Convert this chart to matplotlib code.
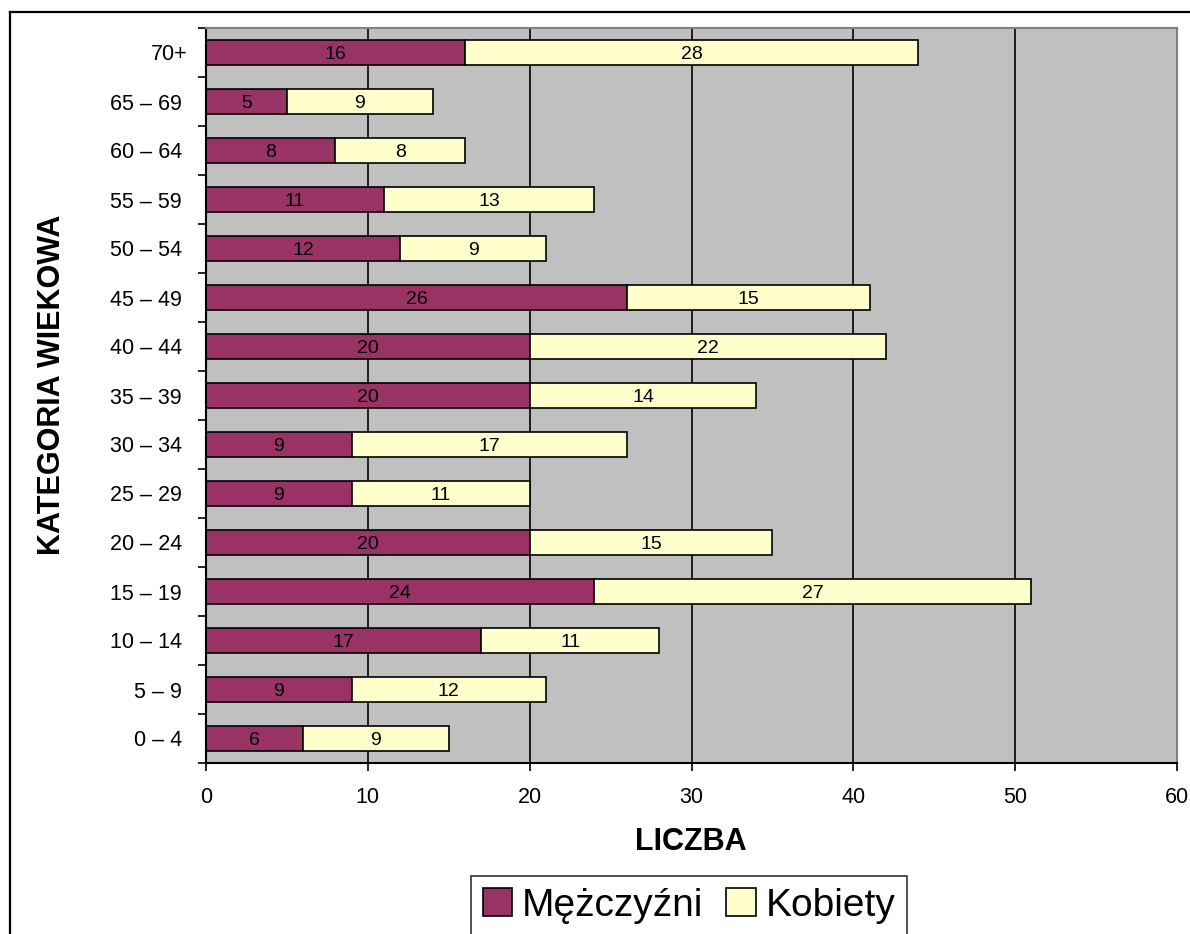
import matplotlib
matplotlib.use("Agg")
import matplotlib.pyplot as plt
from matplotlib.patches import Patch
from matplotlib.lines import Line2D
import numpy as np

plt.rcParams['font.family'] = ['Liberation Sans', 'DejaVu Sans']

categories = ["0 – 4 ", "5 – 9 ", "10 – 14 ", "15 – 19 ", "20 – 24 ", "25 – 29 ", "30 – 34 ",
              "35 – 39 ", "40 – 44 ", "45 – 49 ", "50 – 54 ", "55 – 59 ", "60 – 64 ",
              "65 – 69 ", "70+"]
men = [6, 9, 17, 24, 20, 9, 9, 20, 20, 26, 12, 11, 8, 5, 16]
women = [9, 12, 11, 27, 15, 11, 17, 14, 22, 15, 9, 13, 8, 9, 28]
series_names = ["Mężczyźni", "Kobiety"]
xticks = [0, 10, 20, 30, 40, 50, 60]

c_men = "#993366"
c_women = "#FFFFCC"

W, H = 1190, 934
fig = plt.figure(figsize=(W / 100, H / 100), dpi=100)
ax = fig.add_axes([206 / W, 1 - 763 / H, 971 / W, 735 / H])
ax.set_facecolor("#C0C0C0")

y = np.arange(len(categories))
ax.set_xlim(0, 60)
ax.set_ylim(-0.5, len(categories) - 0.5)

for xv in xticks[1:-1]:
    ax.axvline(xv, color="black", lw=1.2, zorder=1)

b1 = ax.barh(y, men, height=0.5, color=c_men, edgecolor="black", lw=1.2, zorder=2)
b2 = ax.barh(y, women, left=men, height=0.5, color=c_women, edgecolor="black", lw=1.2, zorder=2)
for yi, m, w in zip(y, men, women):
    ax.text(m / 2, yi, str(m), ha="center", va="center_baseline", fontsize=14, zorder=3)
    ax.text(m + w / 2, yi, str(w), ha="center", va="center_baseline", fontsize=14, zorder=3)

ax.set_yticks(y)
ax.set_yticklabels(categories, fontsize=15.5)
ax.tick_params(axis="y", which="major", length=0, pad=13)
ax.set_yticks(np.arange(-0.5, len(categories), 1.0), minor=True)
ax.tick_params(axis="y", which="minor", length=6, width=1.2, direction="out")

ax.set_xticks(xticks)
ax.set_xticklabels([str(v) for v in xticks], fontsize=15.5)
ax.tick_params(axis="x", length=6, width=1.2, direction="out", pad=11)

for s in ["top", "right"]:
    ax.spines[s].set_color("#808080")
    ax.spines[s].set_linewidth(1.5)
for s in ["left", "bottom"]:
    ax.spines[s].set_color("black")
    ax.spines[s].set_linewidth(1.5)

fig.text(691 / W, 1 - 842 / H, "LICZBA", fontsize=22, fontweight="bold",
         ha="center", va="center")
fig.text(52 / W, 1 - 385 / H, "KATEGORIA WIEKOWA", fontsize=22, fontweight="bold",
         ha="center", va="center", rotation=90)

handles = [Patch(facecolor=c_men, edgecolor="black", lw=1.2),
           Patch(facecolor=c_women, edgecolor="black", lw=1.2)]
leg = fig.legend(handles, series_names, loc="upper center",
                 bbox_to_anchor=(689 / W, 1 - 876 / H), ncol=2, fontsize=28,
                 frameon=True, fancybox=False, edgecolor="black",
                 handlelength=0.75, handleheight=0.75, handletextpad=0.25,
                 columnspacing=0.6, borderpad=0.3, borderaxespad=0)
leg.get_frame().set_linewidth(1.2)

# figure border (extends beyond the image on right/bottom)
fig.add_artist(Line2D([10 / W, 1.0], [1 - 12 / H, 1 - 12 / H], color="black", lw=1.6,
                      transform=fig.transFigure))
fig.add_artist(Line2D([10 / W, 10 / W], [1 - 12 / H, 0], color="black", lw=1.6,
                      transform=fig.transFigure))

fig.savefig("out.png", dpi=100)
